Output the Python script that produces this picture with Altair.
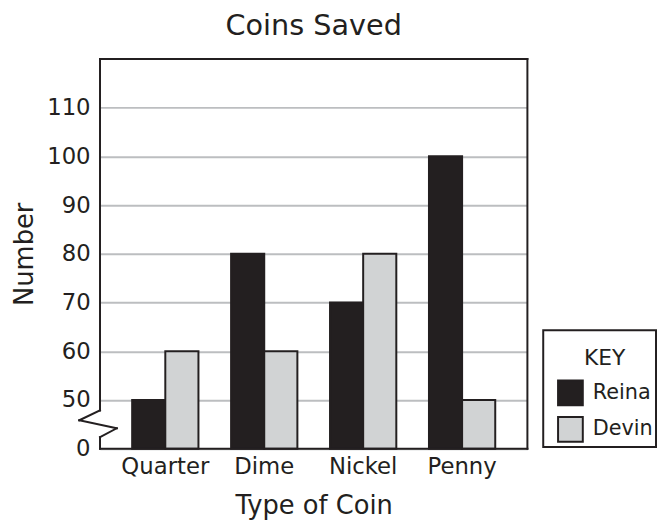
import altair as alt
import pandas as pd

coins = ["Quarter", "Dime", "Nickel", "Penny"]
people = ["Reina", "Devin"]
reina = [50, 80, 70, 100]
devin = [60, 60, 80, 50]
colors = ["#231f20", "#d1d3d4"]
tick_values = [40, 50, 60, 70, 80, 90, 100, 110]

FONT = "DejaVu Sans"
INK = "#231f20"

rows = []
for c, r, d in zip(coins, reina, devin):
    rows.append({"coin": c, "person": "Reina", "value": r})
    rows.append({"coin": c, "person": "Devin", "value": d})
df = pd.DataFrame(rows)

W, H = 432, 394

bars = alt.Chart(df).mark_bar(stroke=INK, strokeWidth=2).encode(
    x=alt.X("coin:N", sort=coins,
            scale=alt.Scale(paddingInner=0.33, paddingOuter=0.325),
            axis=alt.Axis(title="Type of Coin", labelAngle=0, domain=False, ticks=False,
                          labelFontSize=23, labelPadding=7, titleFontSize=26,
                          titlePadding=15, labelFont=FONT, titleFont=FONT,
                          labelColor=INK, titleColor=INK, titleFontWeight="normal")),
    xOffset=alt.XOffset("person:N", sort=people,
                        scale=alt.Scale(paddingInner=0, paddingOuter=0)),
    y=alt.Y("value:Q",
            scale=alt.Scale(domain=[40, 120], zero=False, nice=False),
            axis=alt.Axis(title="Number", values=tick_values,
                          labelExpr="datum.value == 40 ? '0' : datum.label",
                          domain=False, ticks=False, grid=True,
                          gridColor="#bcbec0", gridWidth=2,
                          labelFontSize=23, labelPadding=10, titleFontSize=26,
                          titlePadding=9, labelFont=FONT, titleFont=FONT,
                          labelColor=INK, titleColor=INK, titleFontWeight="normal")),
    y2=alt.datum(40),
    color=alt.Color("person:N",
                    scale=alt.Scale(domain=people, range=colors),
                    legend=alt.Legend(title="KEY", orient="none", legendX=462, legendY=292,
                                      padding=0, titleAnchor="middle", titleFontSize=22,
                                      titleFontWeight="normal", titleFont=FONT,
                                      titleColor=INK, titlePadding=10,
                                      labelFontSize=21, labelFont=FONT, labelColor=INK,
                                      labelOffset=9, rowPadding=4,
                                      symbolType="square", symbolSize=625,
                                      symbolStrokeColor=INK, symbolStrokeWidth=2,
                                      symbolOpacity=1)),
)

dummy = pd.DataFrame({"a": [0]})

def seg(x1, y1, x2, y2):
    return alt.Chart(dummy).mark_rule(color=INK, strokeWidth=2, strokeCap="square").encode(
        x=alt.value(x1), y=alt.value(y1), x2=alt.value(x2), y2=alt.value(y2))

frame = [
    seg(0, 0, W, 0),
    seg(W, 0, W, H),
    seg(0, H, W, H),
    seg(0, 0, 0, 355.3),
    seg(0, 355.3, -21, 365.3),
    seg(-21, 365.3, 17, 373.3),
    seg(17, 373.3, 0, 382.3),
    seg(0, 382.3, 0, H),
]

box = alt.Chart(dummy).mark_rect(fill="transparent", stroke=INK, strokeWidth=2).encode(
    x=alt.value(448), x2=alt.value(562), y=alt.value(274.3), y2=alt.value(392.3))

chart = alt.layer(bars, *frame, box).properties(
    width=W, height=H,
    title=alt.TitleParams("Coins Saved", fontSize=29, font=FONT, fontWeight="normal",
                          color=INK, offset=17, anchor="middle"),
    autosize=alt.AutoSizeParams(type="none"),
    padding={"left": 93, "top": 48.7, "right": 131, "bottom": 70},
).configure_view(stroke="transparent")

chart.save("out.html", embed_options={"renderer": "svg", "actions": False})
